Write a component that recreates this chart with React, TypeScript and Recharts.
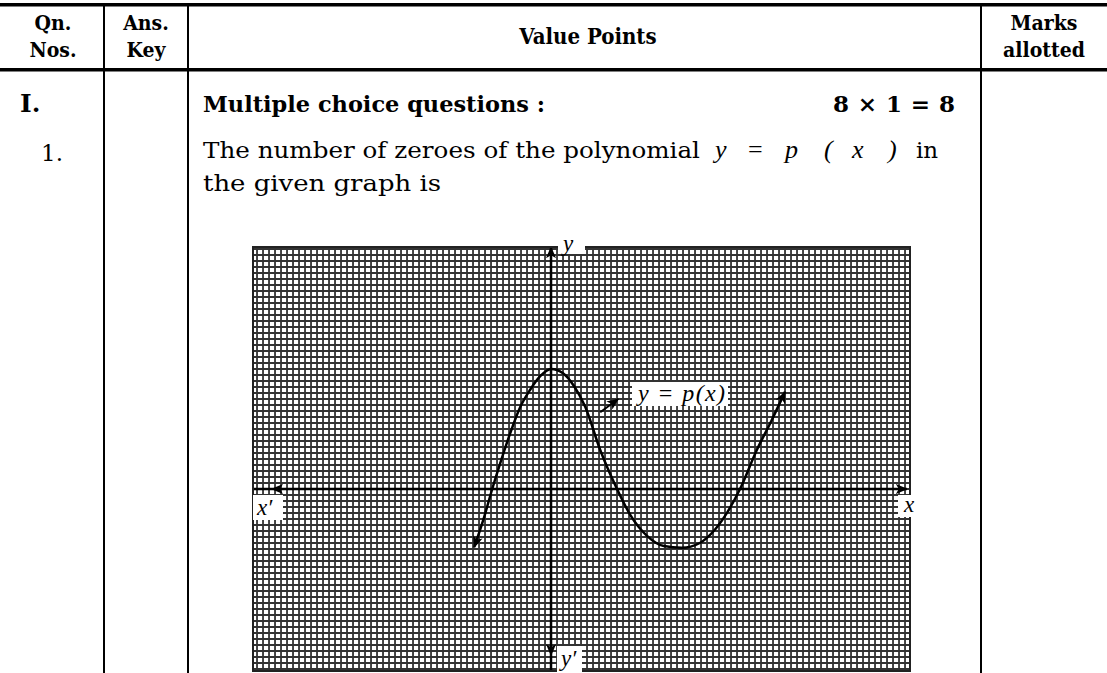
import React from 'react';
import { LineChart, Line, XAxis, YAxis, CartesianGrid } from 'recharts';

// Graph of y = p(x): sample points along the drawn curve (x, y in large-square units)
const curveX = [-1.28, -1.13, -0.98, -0.83, -0.68, -0.52, -0.35, -0.18, 0, 0.2, 0.38, 0.57, 0.82, 1.1, 1.32, 1.6, 1.88, 2.18, 2.48, 2.73, 2.95, 3.15, 3.43, 3.67, 3.9];
const curveY = [-0.97, -0.52, 0, 0.48, 0.93, 1.35, 1.65, 1.88, 2.0, 1.93, 1.72, 1.37, 0.65, 0, -0.43, -0.78, -0.95, -0.98, -0.9, -0.68, -0.37, 0, 0.65, 1.13, 1.62];

// Axis extents of the graph sheet
const xDomain = [-4.967, 5.983];
const yDomain = [-3.033, 4.033];
const xAxisEnds = [-4.65, 5.93];
const yAxisEnds = [4.03, -2.77];
const pointerX = [0.82, 1.12];
const pointerY = [1.28, 1.5];

// Fine graph-paper rulings every 0.1 unit
const gridXTicks = Array.from({ length: 109 }, (_, i) => Math.round((-4.9 + i * 0.1) * 10) / 10);
const gridYTicks = Array.from({ length: 71 }, (_, i) => Math.round((-3.0 + i * 0.1) * 10) / 10);

// Table text
const headerCols = [
  { lines: ['Qn.', 'Nos.'], x: 53 },
  { lines: ['Ans.', 'Key'], x: 146 },
  { lines: ['Value Points'], x: 588 },
  { lines: ['Marks', 'allotted'], x: 1044 },
];
const sectionLabel = 'I.';
const sectionTitle = 'Multiple choice questions :';
const sectionMarks = '8 × 1 = 8';
const questionNo = '1.';
const questionLine1 = 'The number of zeroes of the polynomial';
const questionMath = ['y', '=', 'p', '(', 'x', ')'];
const questionLine1End = 'in';
const questionLine2 = 'the given graph is';
const curveLabel = 'y = p(x)';

const curveData = curveX.map((x, i) => ({ x, y: curveY[i] }));
const xAxisData = [{ x: xAxisEnds[0], y: 0 }, { x: xAxisEnds[1], y: 0 }];
const xAxisTail = [{ x: xDomain[0], y: 0 }, { x: xAxisEnds[0], y: 0 }];
const yAxisData = [{ x: 0, y: yAxisEnds[0] }, { x: 0, y: yAxisEnds[1] }];
const yAxisTail = [{ x: 0, y: yAxisEnds[1] }, { x: 0, y: yDomain[0] }];
const pointerData = pointerX.map((x, i) => ({ x, y: pointerY[i] }));

const GX = 253;
const GY = 247;
const GW = 657;
const GH = 424;

const headFont = '"DejaVu Serif Condensed", "DejaVu Serif", serif';
const bodyFont = '"DejaVu Serif", serif';
const mathFont = '"Liberation Serif", "DejaVu Serif", serif';
const mathXs = [715, 748, 785, 824, 852, 888];

export default function App() {
  const headStyle = { fontStretch: 'condensed' as const };
  return (
    <div style={{ position: 'absolute', left: 0, top: 0, width: 1107, height: 673, overflow: 'hidden', background: '#fff' }}>
      <svg width={0} height={0} style={{ position: 'absolute' }}>
        <defs>
          <marker id="arrow" viewBox="0 0 12 10" refX="11" refY="5" markerWidth="12" markerHeight="10" markerUnits="userSpaceOnUse" orient="auto-start-reverse">
            <path d="M0,0 L12,5 L0,10 L3,5 z" fill="#000" />
          </marker>
        </defs>
      </svg>

      {/* table frame and text */}
      <svg width={1107} height={673} style={{ position: 'absolute', left: 0, top: 0 }}>
        <rect x={0} y={3} width={1107} height={3.5} fill="#000" />
        <rect x={0} y={68} width={1107} height={3.5} fill="#000" />
        <rect x={103} y={3} width={2} height={670} fill="#000" />
        <rect x={187} y={3} width={2} height={670} fill="#000" />
        <rect x={980} y={3} width={2} height={670} fill="#000" />
        {headerCols.map((c, i) =>
          c.lines.length === 2 ? (
            <g key={i}>
              <text x={c.x} y={30} textAnchor="middle" fontFamily={headFont} fontWeight="bold" fontSize={21} style={headStyle}>{c.lines[0]}</text>
              <text x={c.x} y={57} textAnchor="middle" fontFamily={headFont} fontWeight="bold" fontSize={21} style={headStyle}>{c.lines[1]}</text>
            </g>
          ) : (
            <text key={i} x={c.x} y={44} textAnchor="middle" fontFamily={headFont} fontWeight="bold" fontSize={22} style={headStyle}>{c.lines[0]}</text>
          )
        )}
        <text x={20} y={112} fontFamily={bodyFont} fontWeight="bold" fontSize={25}>{sectionLabel}</text>
        <text x={203} y={112} fontFamily={bodyFont} fontWeight="bold" fontSize={23} textLength={342} lengthAdjust="spacingAndGlyphs">{sectionTitle}</text>
        <text x={955} y={112} fontFamily={bodyFont} fontWeight="bold" fontSize={23} textAnchor="end" textLength={122} lengthAdjust="spacing">{sectionMarks}</text>
        <text x={63} y={161} fontFamily={bodyFont} fontSize={23} textAnchor="end">{questionNo}</text>
        <text x={203} y={158} fontFamily={bodyFont} fontSize={23} textLength={497} lengthAdjust="spacingAndGlyphs">{questionLine1}</text>
        {questionMath.map((t, i) => (
          <text key={i} x={mathXs[i]} y={158} fontFamily={mathFont} fontStyle={t === '=' ? 'normal' : 'italic'} fontSize={26}>{t}</text>
        ))}
        <text x={916} y={158} fontFamily={bodyFont} fontSize={23}>{questionLine1End}</text>
        <text x={203} y={191} fontFamily={bodyFont} fontSize={23} textLength={238} lengthAdjust="spacingAndGlyphs">{questionLine2}</text>
      </svg>

      {/* graph sheet */}
      <div style={{ position: 'absolute', left: GX, top: GY, width: GW, height: GH, background: '#fff' }}>
        <LineChart width={GW} height={GH} margin={{ top: 0, right: 0, bottom: 0, left: 0 }}>
          <CartesianGrid stroke="#333" strokeWidth={1.8} fill="#fff" />
          <XAxis dataKey="x" type="number" domain={xDomain} ticks={gridXTicks} interval={0} allowDataOverflow hide />
          <YAxis dataKey="y" type="number" domain={yDomain} ticks={gridYTicks} interval={0} allowDataOverflow hide />
          <Line data={xAxisTail} dataKey="y" stroke="#000" strokeWidth={2.5} dot={false} isAnimationActive={false} />
          <Line data={xAxisData} dataKey="y" stroke="#000" strokeWidth={2.5} dot={false} isAnimationActive={false} markerStart="url(#arrow)" markerEnd="url(#arrow)" />
          <Line data={yAxisTail} dataKey="y" stroke="#000" strokeWidth={2.5} dot={false} isAnimationActive={false} />
          <Line data={yAxisData} dataKey="y" stroke="#000" strokeWidth={2.5} dot={false} isAnimationActive={false} markerStart="url(#arrow)" markerEnd="url(#arrow)" />
          <Line data={curveData} dataKey="y" type="monotone" stroke="#000" strokeWidth={2.5} dot={false} isAnimationActive={false} markerStart="url(#arrow)" markerEnd="url(#arrow)" />
          <Line data={pointerData} dataKey="y" stroke="#000" strokeWidth={2} dot={false} isAnimationActive={false} markerEnd="url(#arrow)" />
        </LineChart>
      </div>

      {/* axis and curve labels */}
      <svg width={1107} height={673} style={{ position: 'absolute', left: 0, top: 0, pointerEvents: 'none' }}>
        <rect x={GX} y={GY} width={GW} height={GH} fill="none" stroke="#222" strokeWidth={2} />
        <rect x={558} y={238} width={27} height={16} fill="#fff" />
        <text x={563} y={251} fontFamily={mathFont} fontStyle="italic" fontSize={23}>y</text>
        <rect x={GX} y={495} width={30} height={25} fill="#fff" />
        <text x={257} y={515} fontFamily={mathFont} fontStyle="italic" fontSize={23}>x′</text>
        <rect x={898} y={495} width={24} height={22} fill="#fff" />
        <text x={904} y={512} fontFamily={mathFont} fontStyle="italic" fontSize={23}>x</text>
        <rect x={557} y={646} width={25} height={27} fill="#fff" />
        <text x={561} y={666} fontFamily={mathFont} fontStyle="italic" fontSize={23}>y′</text>
        <rect x={632} y={382} width={96} height={24} fill="#fff" />
        <text x={638} y={401} fontFamily={mathFont} fontStyle="italic" fontSize={24} textLength={87} lengthAdjust="spacing">{curveLabel}</text>
      </svg>
    </div>
  );
}
